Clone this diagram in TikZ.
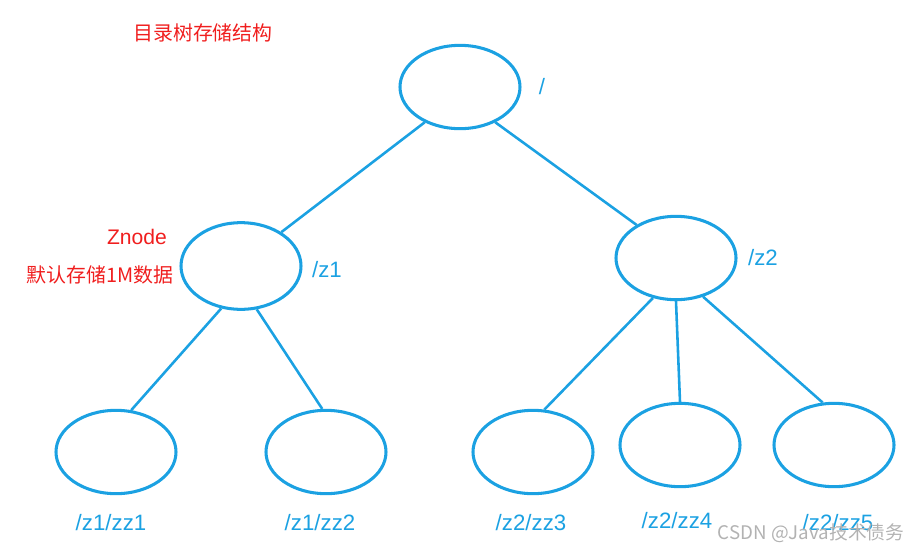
\documentclass[tikz,border=0pt]{standalone}
\usepackage{fontspec}
\setmainfont{Liberation Sans}
\newfontfamily\cjk{Noto Sans CJK SC}
\usetikzlibrary{shapes.geometric}
\definecolor{tb}{RGB}{27,161,226}
\definecolor{tr}{RGB}{240,30,30}
\begin{document}
\begin{tikzpicture}[x=0.03cm,y=-0.03cm,
  ell/.style={ellipse,draw=tb,line width=2.6pt,minimum width=3.6cm,minimum height=2.5cm,inner sep=0pt},
  lnk/.style={draw=tb,line width=2.2pt},
  lab/.style={text=tb,font=\fontsize{19}{21}\selectfont,inner sep=0pt},
  red/.style={text=tr,font=\cjk\fontsize{17}{19}\selectfont,inner sep=0pt}]
\useasboundingbox (0,0) rectangle (921,555);
\node[ell] (r) at (460,87) {};
\node[ell,minimum height=2.6cm] (z1) at (241,266) {};
\node[ell] (z2) at (676,258) {};
\node[ell] (a) at (116,452) {};
\node[ell] (b) at (326,452) {};
\node[ell] (c) at (533,452) {};
\node[ell] (d) at (680,445) {};
\node[ell] (e) at (834,445) {};
\draw[lnk] (r.-135) -- (z1.40);
\draw[lnk] (r.-45) -- (z2.140);
\draw[lnk] (z1.-115) -- (a.70);
\draw[lnk] (z1.-70) -- (b.95);
\draw[lnk] (z2.-120) -- (c.75);
\draw[lnk] (z2.-90) -- (d.90);
\draw[lnk] (z2.-55) -- (e.105);
\node[lab] (lr) at (542,87) {/};
\node[lab] (l1) at (327,270) {/z1};
\node[lab] (l2) at (763,258) {/z2};
\node[lab] (la) at (111,523) {/z1/zz1};
\node[lab] (lb) at (320,523) {/z1/zz2};
\node[lab] (lc) at (531,523) {/z2/zz3};
\node[lab] (ld) at (677,521) {/z2/zz4};
\node[lab] (le) at (838,523) {/z2/zz5};
\node[red] (t) at (203,33) {目录树存储结构};
\node[red,font=\fontsize{18}{20}\selectfont] (zn) at (137,237) {Znode};
\node[red] (m) at (100,275) {默认存储1M数据};
\node[text=gray!60,font=\cjk\fontsize{16}{18}\selectfont,inner sep=0pt] (w) at (811,533) {CSDN @Java技术债务};
\end{tikzpicture}
\end{document}
